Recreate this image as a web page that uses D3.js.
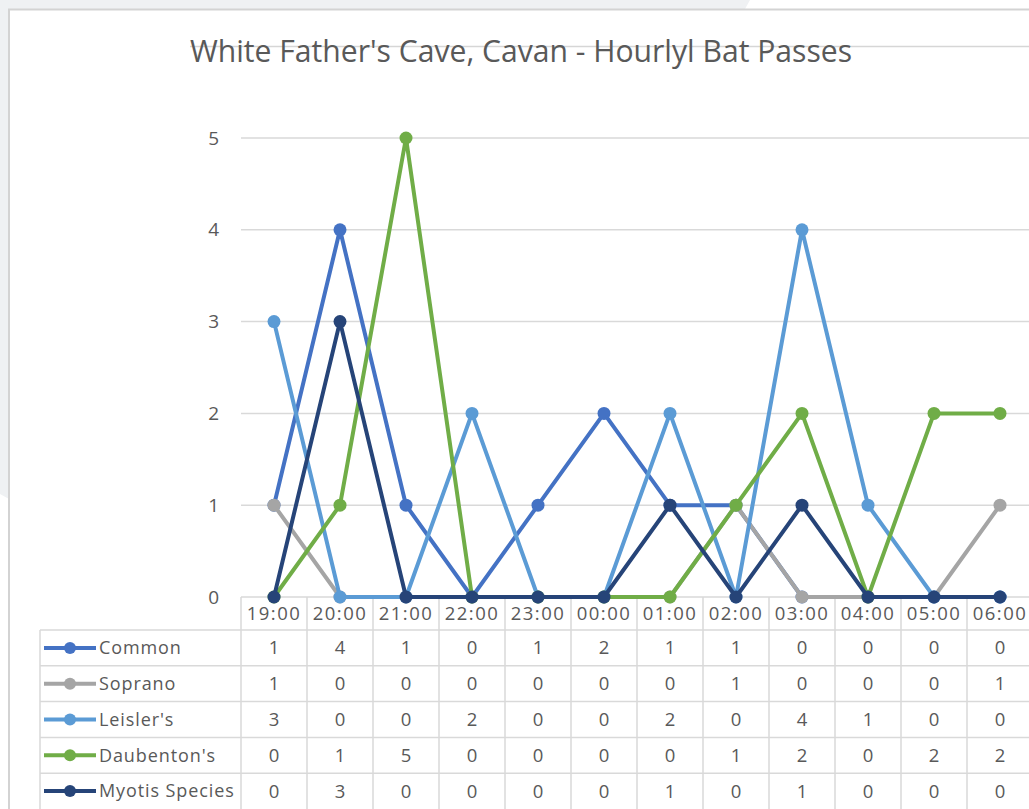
<!DOCTYPE html>
<html>
<head>
<meta charset="utf-8">
<script src="https://cdn.jsdelivr.net/npm/d3@7"></script>
<style>
  body { margin: 0; background: #fff; }
  text { font-family: "Open Sans", "Noto Sans", sans-serif; fill: #595959; }
</style>
</head>
<body>
<div id="chart"></div>
<script>
// data
const hours = ["19:00", "20:00", "21:00", "22:00", "23:00", "00:00",
               "01:00", "02:00", "03:00", "04:00", "05:00", "06:00"];
const seriesNames = ["Common", "Soprano", "Leisler's", "Daubenton's", "Myotis Species"];
const common     = [1, 4, 1, 0, 1, 2, 1, 1, 0, 0, 0, 0];
const soprano    = [1, 0, 0, 0, 0, 0, 0, 1, 0, 0, 0, 1];
const leislers   = [3, 0, 0, 2, 0, 0, 2, 0, 4, 1, 0, 0];
const daubentons = [0, 1, 5, 0, 0, 0, 0, 1, 2, 0, 2, 2];
const myotis     = [0, 3, 0, 0, 0, 0, 1, 0, 1, 0, 0, 0];
const yTicks = [0, 1, 2, 3, 4, 5];
const seriesColors = ["#4472C4", "#A5A5A5", "#5B9BD5", "#70AD47", "#264478"];

const seriesValues = [common, soprano, leislers, daubentons, myotis];
const series = seriesNames.map((name, i) => ({ name: name, values: seriesValues[i], color: seriesColors[i] }));

// step 1 svg and background
const W = 1029, H = 809;
const svg = d3.select("#chart").append("svg")
  .attr("width", W).attr("height", H);

svg.append("rect").attr("width", W).attr("height", H).attr("fill", "#fff");

// grey page corner behind the chart frame
svg.append("polygon")
  .attr("points", "0,0 750,0 745,9 9,9 9,499 0,494")
  .attr("fill", "#eff1f3");

// chart frame (top and left edges only visible)
svg.append("path")
  .attr("d", "M9,809 V9.5 H1029")
  .attr("fill", "none")
  .attr("stroke", "#d3d3d3")
  .attr("stroke-width", 2);

// faint line showing through behind the title
svg.append("line")
  .attr("x1", 190).attr("x2", W).attr("y1", 46.5).attr("y2", 46.5)
  .attr("stroke", "#d6d6d6").attr("stroke-width", 1.5);

svg.append("text")
  .attr("x", 521).attr("y", 62)
  .attr("text-anchor", "middle")
  .attr("textLength", 662)
  .attr("lengthAdjust", "spacingAndGlyphs")
  .style("font-size", "31px")
  .text("White Father's Cave, Cavan - Hourlyl Bat Passes");

// step 2 scales
const x = d3.scaleBand().domain(hours).range([241, 241 + 66 * hours.length]);
const y = d3.scaleLinear().domain([0, 5]).range([597, 138]);
const row = d3.scaleBand().domain(seriesNames).range([630, 630 + 35.8 * seriesNames.length]);
const cx = d => x(d) + x.bandwidth() / 2;

// step 3 gridlines and y labels
svg.append("g").selectAll("line")
  .data(yTicks)
  .enter().append("line")
  .attr("x1", 241).attr("x2", W)
  .attr("y1", d => y(d)).attr("y2", d => y(d))
  .attr("stroke", "#d9d9d9").attr("stroke-width", 1.5);

svg.append("g").selectAll("text")
  .data(yTicks)
  .enter().append("text")
  .attr("x", 219).attr("y", d => y(d))
  .attr("dy", "0.35em")
  .attr("text-anchor", "end")
  .style("font-size", "19px")
  .text(d => d);

// step 4 data table
const tableBottom = row.range()[1];
const grid = svg.append("g").attr("stroke", "#d9d9d9").attr("stroke-width", 1.5);

// column separators
grid.selectAll(".col")
  .data(hours.concat(["end"]))
  .enter().append("line")
  .attr("x1", (d, i) => 241 + i * x.bandwidth())
  .attr("x2", (d, i) => 241 + i * x.bandwidth())
  .attr("y1", y(0)).attr("y2", tableBottom);

grid.append("line").attr("x1", 40).attr("x2", 40).attr("y1", 630).attr("y2", tableBottom);

// row separators
grid.selectAll(".row")
  .data(seriesNames)
  .enter().append("line")
  .attr("x1", 40).attr("x2", W)
  .attr("y1", d => row(d)).attr("y2", d => row(d));

// header labels
svg.append("g").selectAll("text")
  .data(hours)
  .enter().append("text")
  .attr("x", d => cx(d)).attr("y", 613.5)
  .attr("dy", "0.35em")
  .attr("text-anchor", "middle")
  .style("font-size", "18.5px")
  .style("letter-spacing", "1.5px")
  .text(d => d);

// table rows
const rows = svg.append("g").selectAll("g")
  .data(series)
  .enter().append("g")
  .attr("transform", d => "translate(0," + (row(d.name) + row.bandwidth() / 2) + ")");

rows.append("line")
  .attr("x1", 44).attr("x2", 96)
  .attr("stroke", d => d.color).attr("stroke-width", 4);

rows.append("circle")
  .attr("cx", 70).attr("r", 6)
  .attr("fill", d => d.color);

rows.append("text")
  .attr("x", 99).attr("dy", "0.35em")
  .style("font-size", "18px")
  .style("letter-spacing", "0.9px")
  .text(d => d.name);

rows.selectAll(".val")
  .data(d => d.values)
  .enter().append("text")
  .attr("x", (d, i) => cx(hours[i]))
  .attr("dy", "0.35em")
  .attr("text-anchor", "middle")
  .style("font-size", "18.5px")
  .text(d => d);

// step 5 lines and markers
const line = d3.line()
  .x((d, i) => cx(hours[i]))
  .y(d => y(d));

const layer = svg.append("g").selectAll("g")
  .data(series)
  .enter().append("g");

layer.append("path")
  .attr("d", d => line(d.values))
  .attr("fill", "none")
  .attr("stroke", d => d.color)
  .attr("stroke-width", 4)
  .attr("stroke-linejoin", "round");

layer.selectAll("circle")
  .data(d => d.values.map(v => ({ v: v, color: d.color })))
  .enter().append("circle")
  .attr("cx", (d, i) => cx(hours[i]))
  .attr("cy", d => y(d.v))
  .attr("r", 6.5)
  .attr("fill", d => d.color);
</script>
</body>
</html>
